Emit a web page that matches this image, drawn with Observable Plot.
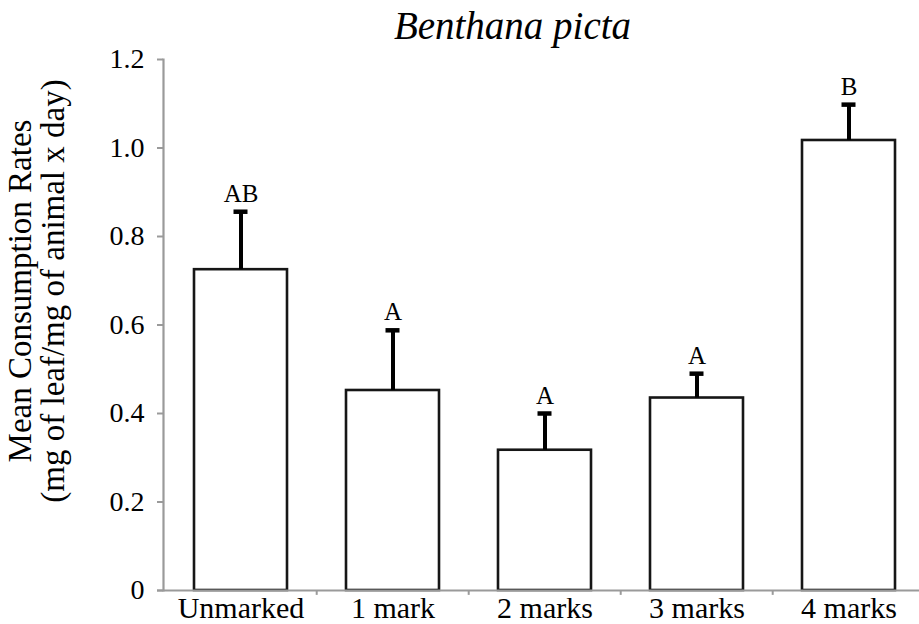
<!DOCTYPE html>
<html>
<head>
<meta charset="utf-8">
<script src="https://cdn.jsdelivr.net/npm/d3@7"></script>
<script src="https://cdn.jsdelivr.net/npm/@observablehq/plot@0.6"></script>
<style>
  html, body { margin: 0; padding: 0; background: #fff; }
  #chart { width: 919px; height: 624px; overflow: hidden; }
</style>
</head>
<body>
<div id="chart"></div>
<script>
const categories = ["Unmarked", "1 mark", "2 marks", "3 marks", "4 marks"];
const means = [0.725, 0.452, 0.317, 0.435, 1.017];
const upperErr = [0.856, 0.588, 0.400, 0.490, 1.098];
const letters = ["AB", "A", "A", "A", "B"];
const yTicks = [0, 0.2, 0.4, 0.6, 0.8, 1.0, 1.2];
const titleText = "Benthana picta";
const yTitleLines = "Mean Consumption Rates\n(mg of leaf/mg of animal x day)";

const data = categories.map((c, i) => ({cat: c, mean: means[i], upper: upperErr[i], letter: letters[i]}));
const font = "'Liberation Serif', 'Times New Roman', serif";
const axisGray = "#9a9a9a";

const chart = Plot.plot({
  width: 919,
  height: 624,
  marginTop: 59,
  marginBottom: 34,
  marginLeft: 163,
  marginRight: 0,
  style: {fontFamily: font, background: "white", overflow: "visible"},
  x: {type: "band", domain: categories, range: [163, 926], paddingInner: 0.39, paddingOuter: 0.195},
  y: {domain: [0, 1.2]},
  marks: [
    Plot.barY(data, {x: "cat", y: "mean", fill: "white", stroke: "#161616", strokeWidth: 2.6}),
    Plot.ruleY([0], {stroke: axisGray, strokeWidth: 2.2, insetLeft: -6}),
    Plot.frame({anchor: "left", stroke: axisGray, strokeWidth: 2.2}),
    Plot.ruleX(categories.slice(1), {x: d => d, dx: -76.3, y1: 0, y2: -0.011, stroke: axisGray, strokeWidth: 2}),
    Plot.ruleX(data, {x: "cat", y1: "mean", y2: "upper", stroke: "black", strokeWidth: 4}),
    Plot.tickY(data, {x: "cat", y: "upper", stroke: "black", strokeWidth: 4.5, inset: 39.5}),
    Plot.text(data, {x: "cat", y: "upper", text: "letter", lineAnchor: "bottom", dy: -10, fontSize: 25, fill: "black"}),
    Plot.axisY({ticks: yTicks, tickFormat: d => d === 0 ? "0" : d.toFixed(1), tickSize: 6, tickPadding: 13, fontSize: 28, stroke: axisGray, strokeWidth: 2, fill: "black", label: null}),
    Plot.axisX({tickSize: 0, tickPadding: 6, fontSize: 30, fill: "black", label: null}),
    Plot.text([titleText], {frameAnchor: "top", text: d => d, dx: -29, dy: -33, lineAnchor: "middle", fontSize: 39, fontStyle: "italic", fill: "black"}),
    Plot.text([yTitleLines], {frameAnchor: "left", text: d => d, rotate: -90, dx: -127, dy: -34, textAnchor: "middle", lineAnchor: "middle", lineHeight: 1.0, fontSize: 33, fill: "black"})
  ]
});
document.getElementById("chart").appendChild(chart);
</script>
</body>
</html>
